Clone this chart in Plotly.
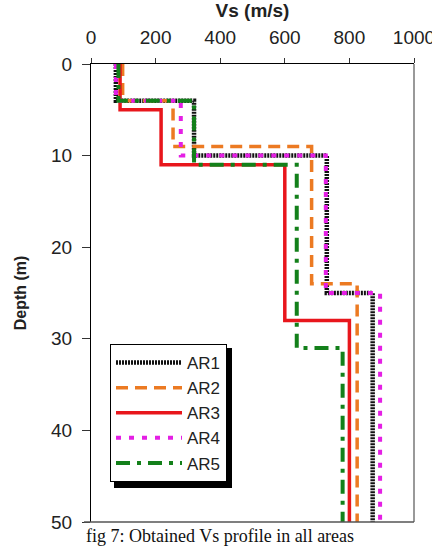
import numpy as np
import plotly.graph_objects as go

# ---- data: layer boundaries (depth, m) and layer Vs (m/s) ----
names = ["AR1", "AR2", "AR3", "AR4", "AR5"]
ar1_depth = [0, 4, 10, 25, 50]
ar1_vs = [77, 319, 730, 872]
ar2_depth = [0, 4, 9, 24, 50]
ar2_vs = [98, 254, 683, 824]
ar3_depth = [0, 5, 11, 28, 50]
ar3_vs = [90, 217, 600, 800]
ar4_depth = [0, 4, 10, 25, 50]
ar4_vs = [77, 278, 727, 895]
ar5_depth = [0, 4, 11, 31, 50]
ar5_vs = [85, 319, 637, 779]

x_ticks = [0, 200, 400, 600, 800, 1000]
y_ticks = [0, 10, 20, 30, 40, 50]

profiles = [(ar1_depth, ar1_vs), (ar2_depth, ar2_vs), (ar3_depth, ar3_vs),
            (ar4_depth, ar4_vs), (ar5_depth, ar5_vs)]

styles = [
    dict(color="#111111", width=4.5, dash="2px,1px"),
    dict(color="#EC7A22", width=3.5, dash="12px,7px"),
    dict(color="#E8161C", width=3.5, dash="solid"),
    dict(color="#E41FE4", width=4, dash="5px,8px"),
    dict(color="#13801A", width=4, dash="14px,7px,4px,7px"),
]


def step(depths, vs):
    xs, ys = [], []
    for i, v in enumerate(vs):
        xs += [v, v]
        ys += [depths[i], depths[i + 1]]
    return xs, ys


FONT = "Liberation Sans, Arial, sans-serif"
fig = go.Figure()
for name, (d, v), st in zip(names, profiles, styles):
    xs, ys = step(d, v)
    fig.add_trace(go.Scatter(x=xs, y=ys, mode="lines", name=name, line=st))

L, R, T, B = 91, 18, 64, 26
W, H = 432, 548
pw, ph = W - L - R, H - T - B


def px_x(p):
    return (p - L) / pw


def px_y(p):
    return (H - B - p) / ph


fig.update_layout(
    width=W, height=H,
    margin=dict(l=L, r=R, t=T, b=B, pad=0),
    paper_bgcolor="white", plot_bgcolor="white",
    font=dict(family=FONT, color="#222222"),
    showlegend=True,
    legend=dict(x=px_x(110), y=px_y(344), xanchor="left", yanchor="top",
                bgcolor="white", bordercolor="black", borderwidth=1,
                font=dict(size=17, family=FONT, color="#222222"),
                itemwidth=66,
                tracegroupgap=0),
    xaxis=dict(side="top", range=[0, 1000], tickvals=x_ticks,
               ticks="outside", ticklen=5, tickcolor="#333333",
               showline=True, linecolor="black", linewidth=1,
               showgrid=False, zeroline=False, automargin=False,
               tickfont=dict(size=19, family=FONT, color="#222222"),
               ticklabelstandoff=6, ticklabeloverflow="allow",
               title=dict(text="<b>Vs (m/s)</b>", font=dict(size=19, family=FONT, color="#222222"),
                          standoff=11)),
    yaxis=dict(range=[50, 0], tickvals=y_ticks,
               ticks="outside", ticklen=8, tickcolor="#333333",
               showline=True, linecolor="black", linewidth=1,
               showgrid=False, zeroline=False, automargin=False,
               tickfont=dict(size=19, family=FONT, color="#222222"),
               ticklabelstandoff=6,
               title=dict(text="<b>Depth (m)</b>", font=dict(size=16, family=FONT, color="#222222"),
                          standoff=20)),
    shapes=[
        dict(type="line", xref="paper", yref="paper", x0=1, x1=1, y0=0, y1=1,
             line=dict(color="#777777", width=1.5)),
        dict(type="line", xref="paper", yref="paper", x0=px_x(84), x1=1, y0=0, y1=0,
             line=dict(color="#555555", width=1.5)),
        dict(type="rect", xref="paper", yref="paper", x0=px_x(114), x1=px_x(232),
             y0=px_y(488), y1=px_y(348), fillcolor="black", line=dict(width=0),
             layer="above"),
    ],
    annotations=[
        dict(text="fig 7: Obtained Vs profile in all areas", xref="paper", yref="paper",
             x=px_x(220), y=px_y(548), xanchor="center", yanchor="bottom", showarrow=False,
             font=dict(family="Liberation Serif, Times New Roman, serif", size=18, color="#111111")),
    ],
)

fig.write_html("out.html")
